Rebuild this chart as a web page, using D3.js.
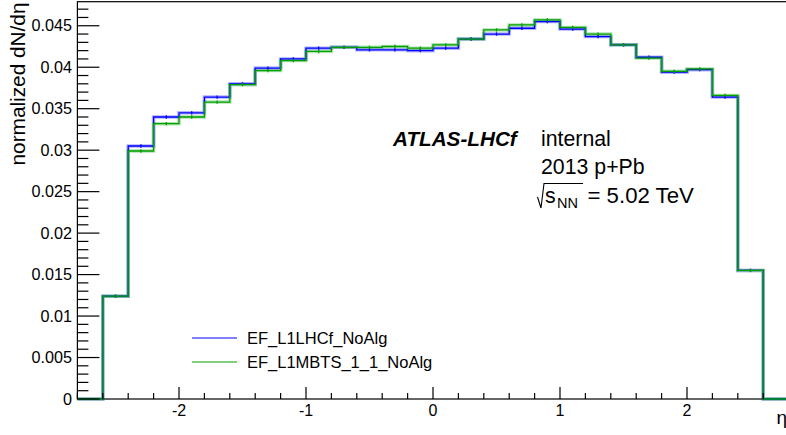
<!DOCTYPE html>
<html>
<head>
<meta charset="utf-8">
<script src="https://cdn.jsdelivr.net/npm/d3@7"></script>
<style>
  body { margin: 0; background: #fff; }
  svg { display: block; font-family: "Liberation Sans", Arial, sans-serif; }
</style>
</head>
<body>
<svg id="chart" width="786" height="435"></svg>
<script>
// eta bin edges (lower edges of 26 bins, last upper edge 2.6)
const binLow = [-2.6, -2.4, -2.2, -2.0, -1.8, -1.6, -1.4, -1.2, -1.0, -0.8, -0.6, -0.4, -0.2,
  0.0, 0.2, 0.4, 0.6, 0.8, 1.0, 1.2, 1.4, 1.6, 1.8, 2.0, 2.2, 2.4];
const binHigh = 2.6;

// EF_L1LHCf_NoAlg
const lhcfValues = [0.0124, 0.0305, 0.0340, 0.0345, 0.0364, 0.0380, 0.0399, 0.0410, 0.0423, 0.0424,
  0.0421, 0.0421, 0.0420, 0.0423, 0.0434, 0.0440, 0.0447, 0.0455, 0.0446, 0.0437,
  0.0427, 0.0412, 0.0394, 0.0397, 0.0364, 0.0155];
const lhcfErrors = [0.0002, 0.0002, 0.0002, 0.0002, 0.0002, 0.0002, 0.0002, 0.0002, 0.0002, 0.0002,
  0.0002, 0.0002, 0.0002, 0.0002, 0.0002, 0.0002, 0.0002, 0.0002, 0.0002, 0.0002,
  0.0002, 0.0002, 0.0002, 0.0002, 0.0002, 0.0002];

// EF_L1MBTS_1_1_NoAlg
const mbtsValues = [0.0124, 0.0299, 0.0332, 0.0340, 0.0358, 0.0379, 0.0396, 0.0408, 0.0419, 0.0424,
  0.0424, 0.0425, 0.0423, 0.0427, 0.0434, 0.0445, 0.0451, 0.0457, 0.0448, 0.0440,
  0.0427, 0.0411, 0.0395, 0.0398, 0.0366, 0.0155];
const mbtsErrors = [0.0002, 0.0002, 0.0002, 0.0002, 0.0002, 0.0002, 0.0002, 0.0002, 0.0002, 0.0002,
  0.0002, 0.0002, 0.0002, 0.0002, 0.0002, 0.0002, 0.0002, 0.0002, 0.0002, 0.0002,
  0.0002, 0.0002, 0.0002, 0.0002, 0.0002, 0.0002];

const xTicks = [-2, -1, 0, 1, 2];
const yTicks = [0, 0.005, 0.01, 0.015, 0.02, 0.025, 0.03, 0.035, 0.04, 0.045];
const yTickLabels = ["0", "0.005", "0.01", "0.015", "0.02", "0.025", "0.03", "0.035", "0.04", "0.045"];

const seriesNames = ["EF_L1LHCf_NoAlg", "EF_L1MBTS_1_1_NoAlg"];
const seriesColors = ["#0000ff", "#00a000"];

const svg = d3.select("#chart");

const frame = { left: 77.4, right: 788.6, top: 1.7, bottom: 399 };

const x = d3.scaleLinear().domain([-2.8, 2.8]).range([frame.left, frame.right]);
const y = d3.scaleLinear().domain([0, 0.0479]).range([frame.bottom, frame.top]);

// frame box
svg.append("rect")
  .attr("x", frame.left).attr("y", frame.top)
  .attr("width", frame.right - frame.left).attr("height", frame.bottom - frame.top)
  .attr("fill", "none").attr("stroke", "#000").attr("stroke-width", 1.2);

// histograms
const line = d3.line()
  .x(d => x(d[0]))
  .y(d => y(d[1]))
  .curve(d3.curveStepAfter);

function histPoints(vals) {
  const pts = [[-2.8, 0]];
  binLow.forEach((b, i) => pts.push([b, vals[i]]));
  pts.push([binHigh, 0]);
  pts.push([2.8, 0]);
  return pts;
}

const series = [
  { vals: lhcfValues, errs: lhcfErrors, color: seriesColors[0] },
  { vals: mbtsValues, errs: mbtsErrors, color: seriesColors[1] }
];

const hg = svg.append("g");
series.forEach(s => {
  hg.append("path")
    .attr("d", line(histPoints(s.vals)))
    .attr("fill", "none")
    .attr("stroke", s.color)
    .attr("stroke-opacity", 0.3)
    .attr("stroke-width", 3.5);
});
series.forEach(s => {
  hg.append("path")
    .attr("d", line(histPoints(s.vals)))
    .attr("fill", "none")
    .attr("stroke", s.color)
    .attr("stroke-width", 1.3);
  hg.selectAll(null)
    .data(binLow.map((b, i) => ({ c: b + 0.1, v: s.vals[i], e: s.errs[i] })))
    .enter()
    .append("line")
    .attr("x1", d => x(d.c)).attr("x2", d => x(d.c))
    .attr("y1", d => y(d.v - d.e)).attr("y2", d => y(d.v + d.e))
    .attr("stroke", s.color)
    .attr("stroke-width", 1.3);
});

// x axis ticks (drawn inward, ROOT style)
const xMinor = d3.range(-28, 29, 2).map(v => v / 10).filter(v => !xTicks.includes(Math.round(v * 10) / 10));
const xa = svg.append("g");
xa.selectAll(null).data(xMinor).enter().append("line")
  .attr("x1", d => x(d)).attr("x2", d => x(d))
  .attr("y1", frame.bottom).attr("y2", frame.bottom - 6)
  .attr("stroke", "#000").attr("stroke-width", 1.2);
xa.selectAll(null).data(xTicks).enter().append("line")
  .attr("x1", d => x(d)).attr("x2", d => x(d))
  .attr("y1", frame.bottom).attr("y2", frame.bottom - 12)
  .attr("stroke", "#000").attr("stroke-width", 1.2);
xa.selectAll(null).data(xTicks).enter().append("text")
  .attr("x", d => x(d)).attr("y", 416)
  .attr("text-anchor", "middle")
  .attr("font-size", 16)
  .text(d => d);

// y axis ticks
const yMinor = d3.range(0, 48).map(v => v / 1000).filter(v => v % 0.005 > 1e-9 && 0.005 - (v % 0.005) > 1e-9);
const ya = svg.append("g");
ya.selectAll(null).data(yMinor).enter().append("line")
  .attr("x1", frame.left).attr("x2", frame.left + 11)
  .attr("y1", d => y(d)).attr("y2", d => y(d))
  .attr("stroke", "#000").attr("stroke-width", 1.2);
ya.selectAll(null).data(yTicks).enter().append("line")
  .attr("x1", frame.left).attr("x2", frame.left + 22)
  .attr("y1", d => y(d)).attr("y2", d => y(d))
  .attr("stroke", "#000").attr("stroke-width", 1.2);
ya.selectAll(null).data(yTicks).enter().append("text")
  .attr("x", 72).attr("y", d => y(d))
  .attr("dy", "0.35em")
  .attr("text-anchor", "end")
  .attr("font-size", 16.2)
  .text((d, i) => yTickLabels[i]);

// axis titles
svg.append("text")
  .attr("transform", "translate(24.5,2.5) rotate(-90)")
  .attr("text-anchor", "end")
  .attr("font-size", 20.8)
  .text("normalized dN/dη");

svg.append("text")
  .attr("x", 787).attr("y", 424)
  .attr("text-anchor", "end")
  .attr("font-size", 19)
  .text("η");

// annotation
svg.append("text")
  .attr("x", 393).attr("y", 145.5)
  .attr("font-size", 20.7)
  .attr("font-weight", "bold")
  .attr("font-style", "italic")
  .text("ATLAS-LHCf");
svg.append("text")
  .attr("x", 541).attr("y", 145.5)
  .attr("font-size", 21.3)
  .text("internal");
svg.append("text")
  .attr("x", 541).attr("y", 174)
  .attr("font-size", 21.3)
  .text("2013 p+Pb");
svg.append("path")
  .attr("d", "M537.5,197 L541,208 L544,183.5 L583,183.5")
  .attr("fill", "none").attr("stroke", "#000").attr("stroke-width", 1.1);
svg.append("text")
  .attr("x", 545).attr("y", 203)
  .attr("font-size", 21.3)
  .text("s");
svg.append("text")
  .attr("x", 557).attr("y", 208)
  .attr("font-size", 14.5)
  .text("NN");
svg.append("text")
  .attr("x", 587.5).attr("y", 203)
  .attr("font-size", 22.2)
  .text("= 5.02 TeV");

// legend
const lg = svg.append("g");
seriesNames.forEach((name, i) => {
  const ly = 338 + i * 24;
  lg.append("line")
    .attr("x1", 192).attr("x2", 237)
    .attr("y1", ly).attr("y2", ly)
    .attr("stroke", seriesColors[i]).attr("stroke-width", 1.2);
  lg.append("text")
    .attr("x", 247).attr("y", ly)
    .attr("dy", "0.35em")
    .attr("font-size", 16.5)
    .text(name);
});
</script>
</body>
</html>
